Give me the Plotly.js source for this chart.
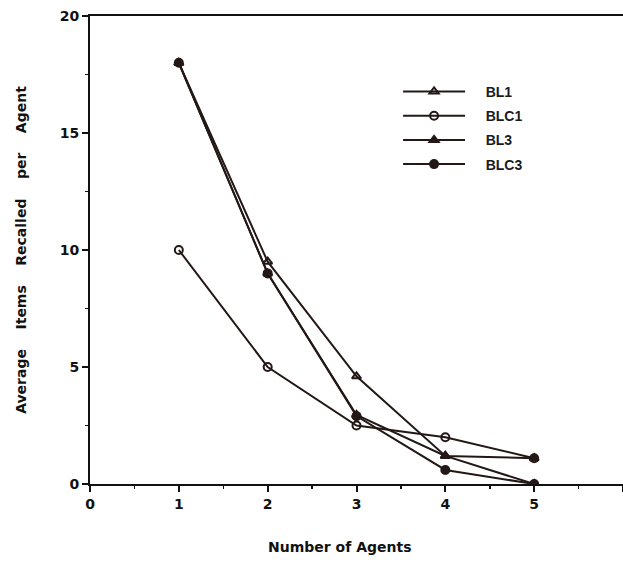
<!DOCTYPE html>
<html>
<head>
<meta charset="utf-8">
<script src="https://cdn.plot.ly/plotly-3.0.1.min.js"></script>
<style>
  html, body { margin: 0; padding: 0; background: #fff; }
  #chart { width: 623px; height: 565px; }
</style>
</head>
<body>
<div id="chart"></div>
<script>
const agents = [1, 2, 3, 4, 5];
const seriesNames = ["BL1", "BLC1", "BL3", "BLC3"];
const bl1 = [18, 9.5, 4.6, 1.2, 0];
const blc1 = [10, 5, 2.5, 2.0, 1.1];
const bl3 = [18, 9.0, 2.95, 1.2, 1.1];
const blc3 = [18, 9.0, 2.9, 0.6, 0];
const xTicks = [0, 1, 2, 3, 4, 5, 6];
const yTicks = [0, 5, 10, 15, 20];
const xTitle = "Number of Agents";
const yTitleWords = ["Average", "Items", "Recalled", "per", "Agent"];

const symbols = ["triangle-up-open", "circle-open", "triangle-up", "circle"];
const values = [bl1, blc1, bl3, blc3];
const lineColor = "#231816";

const traces = values.map((v, i) => ({
  x: agents,
  y: v,
  name: "\u00A0\u00A0\u00A0\u00A0" + seriesNames[i],
  legendgroup: seriesNames[i],
  type: "scatter",
  mode: "lines+markers",
  line: { color: lineColor, width: 2 },
  marker: {
    symbol: symbols[i],
    size: 8,
    color: lineColor,
    line: { color: lineColor, width: 2 }
  }
}));

const fontFam = "Liberation Sans, Arial, sans-serif";
const heavyFam = "DejaVu Sans, Liberation Sans, sans-serif";
const sp = "\u00A0\u00A0\u00A0\u00A0";

const layout = {
  width: 623,
  height: 565,
  margin: { l: 90, r: 0, t: 16, b: 81 },
  paper_bgcolor: "#ffffff",
  plot_bgcolor: "#ffffff",
  showlegend: true,
  legend: {
    x: 0.578, y: 0.872,
    xanchor: "left", yanchor: "top",
    bgcolor: "rgba(0,0,0,0)",
    itemwidth: 62,
    traceorder: "grouped",
    tracegroupgap: 3,
    font: { family: fontFam, size: 14, color: "#1a1a1a", weight: "bold" }
  },
  xaxis: {
    range: [0, 6],
    tickvals: xTicks,
    ticktext: xTicks.map(String),
    ticks: "outside",
    ticklen: 6,
    tickwidth: 2,
    tickcolor: "#111",
    minor: { dtick: 0.5, ticks: "outside", ticklen: 3, tickwidth: 1.5, tickcolor: "#111" },
    showgrid: false,
    zeroline: false,
    showline: true,
    linecolor: "#111",
    linewidth: 2,
    mirror: true,
    tickfont: { family: heavyFam, size: 14, color: "#111", weight: "bold" }
  },
  yaxis: {
    range: [0, 20],
    tickvals: yTicks,
    ticktext: yTicks.map(String),
    ticks: "outside",
    ticklen: 6,
    tickwidth: 2,
    tickcolor: "#111",
    minor: { dtick: 2.5, ticks: "outside", ticklen: 3, tickwidth: 1.5, tickcolor: "#111" },
    showgrid: false,
    zeroline: false,
    showline: true,
    linecolor: "#111",
    linewidth: 2,
    tickfont: { family: heavyFam, size: 14, color: "#111", weight: "bold" },
    title: {
      text: yTitleWords.join(sp),
      font: { family: heavyFam, size: 14, color: "#111", weight: "bold" },
      standoff: 30
    }
  },
  annotations: [{
    text: xTitle,
    xref: "paper", yref: "paper",
    x: 0.469, y: -0.135,
    xanchor: "center", yanchor: "middle",
    showarrow: false,
    font: { family: heavyFam, size: 14, color: "#111", weight: "bold" }
  }]
};

Plotly.newPlot("chart", traces, layout, { displayModeBar: false, staticPlot: true });
</script>
</body>
</html>
